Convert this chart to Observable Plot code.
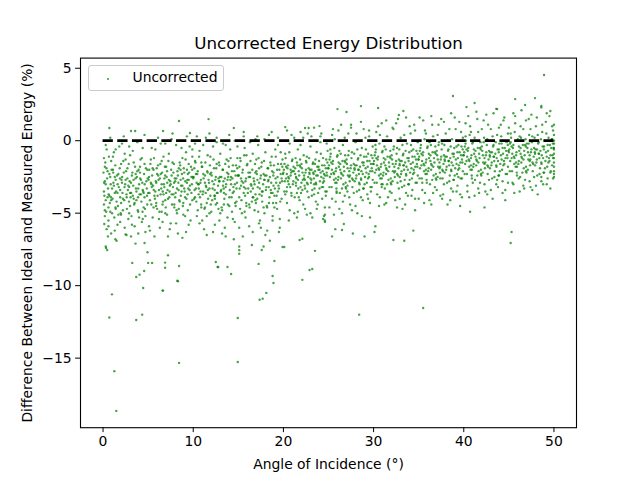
<!DOCTYPE html>
<html>
<head>
<meta charset="utf-8">
<script src="https://cdn.jsdelivr.net/npm/d3@7"></script>
<script src="https://cdn.jsdelivr.net/npm/@observablehq/plot@0.6"></script>
<style>
  html, body { margin: 0; padding: 0; background: white; }
  #wrap { position: relative; width: 640px; height: 480px; font-family: "DejaVu Sans", sans-serif; }
  #legend { position: absolute; left: 87.5px; top: 65px; width: 134px; height: 24px;
    border: 1px solid #cccccc; border-radius: 3px; background: rgba(255,255,255,0.8); }
  #legend .mk { position: absolute; left: 18px; top: 12px; width: 2px; height: 2px; border-radius: 1px; background: #3a9a3a; }
  #legend .lb { position: absolute; left: 44px; top: 3px; font-size: 13.9px; line-height: 17px; color: black; }
</style>
</head>
<body>
<div id="wrap"><div id="legend"><span class="mk"></span><span class="lb">Uncorrected</span></div></div>
<script>
// Chart text
const chartTitle = "Uncorrected Energy Distribution";
const xLabel = "Angle of Incidence (°)";
const yLabel = "Difference Between Ideal and Measured Energy (%)";
const seriesName = "Uncorrected";

// Tick values
const xTicks = [0, 10, 20, 30, 40, 50];
const yTicks = [5, 0, -5, -10, -15];

// Reference (ideal) line: angle and difference
const refAngles = [0, 50];
const refDiff = 0;

// Scatter points [angle (deg), difference (%)], grouped by angle
const bin0to5 = [[0.1,-1.2],[0.2,-2.8],[0.3,-4.1],[0.1,-3.5],[0.4,-0.6],[0.2,-5.2],[0.5,-2.1],[0.3,-3.0],[0.6,-4.6],[0.2,-1.8],[0.7,-3.8],[0.4,-6.1],[0.8,-2.5],[0.1,-4.4],[0.9,-1.4],[0.6,-5.5],[1.0,-3.3],[0.3,-7.3],[1.1,-2.0],[0.8,-4.9],[1.2,-0.8],[1.3,-3.6],[0.9,-6.4],[1.4,-2.7],[1.5,-4.2],[1.1,-1.1],[1.6,-5.8],[1.2,-3.1],[1.7,-2.3],[1.4,-4.7],[1.8,-0.4],[1.9,-3.9],[1.5,-6.9],[2.0,-1.6],[2.1,-2.9],[1.7,-5.1],[2.2,-4.0],[2.3,-2.2],[1.9,-3.4],[2.4,-6.0],[2.5,-1.3],[2.6,-3.7],[2.2,-4.8],[2.7,-2.6],[2.8,-5.4],[2.4,-0.9],[2.9,-3.2],[3.0,-4.5],[2.7,-1.9],[3.1,-6.6],[3.2,-2.4],[3.3,-3.8],[2.9,-5.0],[3.4,-1.5],[3.5,-4.3],[3.1,-2.9],[3.6,-7.1],[3.7,-3.5],[3.3,-0.7],[3.8,-2.1],[3.9,-4.9],[3.5,-5.9],[4.0,-3.0],[4.1,-1.8],[3.7,-4.1],[4.2,-2.7],[4.3,-5.6],[3.9,-3.3],[4.4,-0.5],[4.5,-4.6],[4.1,-2.2],[4.6,-3.9],[4.7,-6.3],[4.3,-1.2],[4.8,-2.8],[4.9,-4.4],[4.5,-3.6],[4.7,-5.2],[0.5,-3.9],[1.3,-2.5],[2.0,-4.3],[2.8,-3.1],[3.6,-2.6],[4.4,-3.4],[0.7,-2.3],[1.6,-3.6],[2.5,-2.7],[3.4,-4.0],[4.2,-3.7],[0.2,-4.8],[1.0,-5.0],[4.9,-2.0],[3.0,-1.0],[2.1,-0.2],[4.6,-1.6]];
const bin0to5b = [[0.05,-2.2],[0.15,-3.8],[0.25,-1.5],[0.35,-4.9],[0.45,-2.6],[0.55,-3.3],[0.65,-1.1],[0.75,-4.3],[0.85,-3.0],[0.95,-2.0],[1.05,-4.0],[1.15,-2.9],[1.25,-5.3],[1.35,-1.7],[1.45,-3.5],[1.55,-2.4],[1.65,-4.5],[1.75,-3.2],[1.85,-1.9],[1.95,-5.0],[2.05,-2.7],[2.15,-3.6],[2.25,-1.4],[2.35,-4.1],[2.45,-3.0],[2.55,-2.1],[2.65,-4.7],[2.75,-3.4],[2.85,-1.6],[2.95,-2.8],[3.05,-3.9],[3.15,-5.2],[3.25,-2.2],[3.35,-3.1],[3.45,-4.4],[3.55,-1.8],[3.65,-3.3],[3.75,-2.5],[3.85,-4.8],[3.95,-2.0],[4.05,-3.7],[4.15,-1.3],[4.25,-4.2],[4.35,-2.9],[4.45,-3.5],[4.55,-2.3],[4.65,-4.7],[4.75,-1.9],[4.85,-3.3],[4.95,-2.6],[0.12,-2.9],[0.62,-3.7],[1.12,-2.2],[1.62,-3.0],[2.12,-2.5],[2.62,-3.9],[3.12,-3.6],[3.62,-2.3],[4.12,-2.6],[4.62,-3.0],[0.38,-1.9],[0.88,-3.9],[1.38,-4.6],[1.88,-2.6],[2.38,-3.2],[2.88,-4.2],[3.38,-2.7],[3.88,-3.9],[4.38,-4.9],[4.88,-3.8]];
const bin5to10 = [[5.1,-2.5],[5.2,-4.1],[5.3,-1.3],[5.4,-3.2],[5.5,-5.3],[5.6,-2.0],[5.7,-3.8],[5.8,-0.6],[5.9,-2.9],[6.0,-4.7],[6.1,-1.7],[6.2,-3.4],[6.3,-6.0],[6.4,-2.3],[6.5,-3.0],[6.6,-4.4],[6.7,-1.1],[6.8,-2.6],[6.9,-5.0],[7.0,-3.6],[7.1,-2.1],[7.2,-4.0],[7.3,-0.9],[7.4,-3.1],[7.5,-5.7],[7.6,-2.4],[7.7,-1.5],[7.8,-3.7],[7.9,-4.6],[8.0,-2.8],[8.1,-0.3],[8.2,-3.3],[8.3,-6.4],[8.4,-1.9],[8.5,-4.2],[8.6,-2.7],[8.7,-3.5],[8.8,-1.2],[8.9,-5.1],[9.0,-2.2],[9.1,-3.9],[9.2,-0.8],[9.3,-2.9],[9.4,-4.8],[9.5,-1.6],[9.6,-3.4],[9.7,-5.5],[9.8,-2.5],[9.9,-4.1],[5.3,-2.9],[5.8,-3.5],[6.3,-2.6],[6.8,-3.2],[7.3,-2.7],[7.8,-2.2],[8.3,-2.4],[8.8,-3.1],[9.3,-2.0],[9.8,-3.6],[5.5,-1.9],[6.0,-2.3],[6.5,-1.4],[7.0,-1.8],[7.5,-3.0],[8.0,-3.9],[8.5,-1.5],[9.0,-3.3],[9.5,-2.7],[5.2,-6.2],[6.2,-5.4],[7.2,-6.6],[8.2,-5.0],[9.2,-6.3],[5.9,-4.3],[6.9,-4.1],[7.9,-4.4],[8.9,-4.3],[9.9,-1.1],[6.4,-0.2],[7.6,0.1],[8.7,-0.5],[9.6,-0.4],[5.0,-3.6],[6.7,-3.7],[8.6,-2.0],[9.4,-2.3]];
const bin5to10b = [[5.05,-2.7],[5.15,-3.6],[5.25,-1.6],[5.35,-4.4],[5.45,-2.4],[5.55,-3.1],[5.65,-1.2],[5.75,-4.0],[5.85,-2.8],[5.95,-1.9],[6.05,-3.8],[6.15,-2.7],[6.25,-4.9],[6.35,-1.6],[6.45,-3.3],[6.55,-2.2],[6.65,-4.2],[6.75,-3.0],[6.85,-1.8],[6.95,-4.6],[7.05,-2.5],[7.15,-3.4],[7.25,-1.4],[7.35,-3.9],[7.45,-2.8],[7.55,-2.0],[7.65,-4.4],[7.75,-3.2],[7.85,-1.6],[7.95,-2.6],[8.05,-3.6],[8.15,-4.8],[8.25,-2.1],[8.35,-2.9],[8.45,-4.1],[8.55,-1.7],[8.65,-3.1],[8.75,-2.3],[8.85,-4.5],[8.95,-1.9],[9.05,-3.5],[9.15,-1.3],[9.25,-4.0],[9.35,-2.7],[9.45,-3.3],[9.55,-2.2],[9.65,-4.4],[9.75,-1.8],[9.85,-3.0],[9.95,-2.5],[5.12,-2.0],[5.62,-3.4],[6.12,-2.4],[6.62,-3.5],[7.12,-2.9],[7.62,-3.7],[8.12,-2.6],[8.62,-3.8],[9.12,-2.8],[9.62,-3.1],[5.38,-3.0],[5.88,-4.5],[6.38,-3.7],[6.88,-2.4],[7.38,-3.5],[7.88,-2.9],[8.38,-3.4],[8.88,-2.6],[9.38,-3.7],[9.88,-2.0]];
const bin10to15 = [[10.0,-2.6],[10.1,-4.0],[10.2,-1.4],[10.3,-3.3],[10.4,-5.2],[10.5,-2.1],[10.6,-3.7],[10.7,-0.7],[10.8,-2.9],[10.9,-4.6],[11.0,-1.8],[11.1,-3.5],[11.2,-6.1],[11.3,-2.4],[11.4,-3.1],[11.5,-4.3],[11.6,-1.0],[11.7,-2.7],[11.8,-5.0],[11.9,-3.8],[12.0,-2.2],[12.1,-4.1],[12.2,-0.4],[12.3,-3.0],[12.4,-5.8],[12.5,-2.5],[12.6,-1.6],[12.7,-3.6],[12.8,-4.7],[12.9,-2.8],[13.0,-0.9],[13.1,-3.4],[13.2,-6.4],[13.3,-2.0],[13.4,-4.4],[13.5,-2.6],[13.6,-3.2],[13.7,-1.3],[13.8,-5.3],[13.9,-2.3],[14.0,-3.9],[14.1,-0.6],[14.2,-3.0],[14.3,-4.9],[14.4,-1.7],[14.5,-3.5],[14.6,-5.6],[14.7,-2.4],[14.8,-4.2],[14.9,-1.2],[10.3,-2.3],[10.8,-3.5],[11.3,-2.9],[11.8,-3.3],[12.3,-1.9],[12.8,-2.6],[13.3,-3.1],[13.8,-2.7],[14.3,-2.1],[14.8,-3.3],[10.5,-4.8],[11.0,-5.5],[11.5,-6.5],[12.0,-4.9],[12.5,-4.4],[13.0,-5.0],[13.5,-6.0],[14.0,-4.5],[14.5,-6.8],[10.2,-0.2],[11.4,0.2],[12.6,-0.1],[13.6,-0.3],[14.6,0.0],[10.9,-1.5],[11.9,-1.1],[12.9,-1.7],[13.9,-1.4],[10.6,-3.0],[11.6,-2.2],[12.4,-3.8],[13.4,-3.6],[14.2,-2.5]];
const bin10to15b = [[10.05,-2.5],[10.15,-3.4],[10.25,-1.5],[10.35,-4.2],[10.45,-2.3],[10.55,-3.0],[10.65,-1.1],[10.75,-3.9],[10.85,-2.7],[10.95,-1.8],[11.05,-3.7],[11.15,-2.6],[11.25,-4.7],[11.35,-1.5],[11.45,-3.2],[11.55,-2.1],[11.65,-4.0],[11.75,-2.9],[11.85,-1.7],[11.95,-4.4],[12.05,-2.4],[12.15,-3.3],[12.25,-1.3],[12.35,-3.8],[12.45,-2.7],[12.55,-1.9],[12.65,-4.3],[12.75,-3.1],[12.85,-1.5],[12.95,-2.5],[13.05,-3.5],[13.15,-4.6],[13.25,-2.0],[13.35,-2.8],[13.45,-4.0],[13.55,-1.6],[13.65,-3.0],[13.75,-2.2],[13.85,-4.4],[13.95,-1.8],[14.05,-3.4],[14.15,-1.2],[14.25,-3.9],[14.35,-2.6],[14.45,-3.2],[14.55,-2.1],[14.65,-4.3],[14.75,-1.7],[14.85,-2.9],[14.95,-2.4],[10.12,-1.9],[10.62,-3.3],[11.12,-2.3],[11.62,-3.4],[12.12,-2.8],[12.62,-3.6],[13.12,-2.5],[13.62,-3.7],[14.12,-2.7],[14.62,-3.0],[10.38,-2.9],[10.88,-4.4],[11.38,-3.6],[11.88,-2.3],[12.38,-3.4],[12.88,-2.8],[13.38,-3.3],[13.88,-2.5],[14.38,-3.6],[14.88,-1.9]];
const bin15to20 = [[15.0,-2.4],[15.1,-3.9],[15.2,-1.2],[15.3,-3.1],[15.4,-5.0],[15.5,-2.0],[15.6,-3.6],[15.7,-0.5],[15.8,-2.8],[15.9,-4.5],[16.0,-1.6],[16.1,-3.3],[16.2,-5.9],[16.3,-2.2],[16.4,-3.0],[16.5,-4.2],[16.6,-0.9],[16.7,-2.6],[16.8,-4.8],[16.9,-3.7],[17.0,-2.1],[17.1,-4.0],[17.2,-0.3],[17.3,-2.9],[17.4,-5.5],[17.5,-2.4],[17.6,-1.5],[17.7,-3.5],[17.8,-4.6],[17.9,-2.7],[18.0,-0.8],[18.1,-3.2],[18.2,-6.2],[18.3,-1.9],[18.4,-4.3],[18.5,-2.5],[18.6,-3.4],[18.7,-1.1],[18.8,-5.2],[18.9,-2.2],[19.0,-3.8],[19.1,-0.6],[19.2,-2.9],[19.3,-4.7],[19.4,-1.6],[19.5,-3.3],[19.6,-5.4],[19.7,-2.3],[19.8,-4.0],[19.9,-1.3],[15.3,-2.6],[15.8,-3.3],[16.3,-2.5],[16.8,-3.0],[17.3,-1.9],[17.8,-2.3],[18.3,-2.8],[18.8,-3.6],[19.3,-2.0],[19.8,-2.6],[15.5,-6.6],[16.5,-7.2],[17.5,-6.0],[18.5,-6.9],[19.5,-6.3],[15.2,-4.7],[16.2,-4.4],[17.2,-4.9],[18.2,-4.6],[19.2,-4.3],[15.6,0.3],[16.9,0.1],[18.4,0.4],[19.4,0.2],[15.9,-1.0],[17.0,-1.3],[18.6,-1.7],[19.7,-0.8],[16.6,-3.9],[17.6,-3.8],[18.9,-3.1]];
const bin15to20b = [[15.05,-2.4],[15.15,-3.3],[15.25,-1.4],[15.35,-4.1],[15.45,-2.2],[15.55,-2.9],[15.65,-1.0],[15.75,-3.8],[15.85,-2.6],[15.95,-1.7],[16.05,-3.6],[16.15,-2.5],[16.25,-4.6],[16.35,-1.4],[16.45,-3.1],[16.55,-2.0],[16.65,-3.9],[16.75,-2.8],[16.85,-1.6],[16.95,-4.3],[17.05,-2.3],[17.15,-3.2],[17.25,-1.2],[17.35,-3.7],[17.45,-2.6],[17.55,-1.8],[17.65,-4.2],[17.75,-3.0],[17.85,-1.4],[17.95,-2.4],[18.05,-3.4],[18.15,-4.5],[18.25,-1.9],[18.35,-2.7],[18.45,-3.9],[18.55,-1.5],[18.65,-2.9],[18.75,-2.1],[18.85,-4.3],[18.95,-1.7],[19.05,-3.3],[19.15,-1.1],[19.25,-3.8],[19.35,-2.5],[19.45,-3.1],[19.55,-2.0],[19.65,-4.2],[19.75,-1.6],[19.85,-2.8],[19.95,-2.3],[15.12,-1.8],[15.62,-3.2],[16.12,-2.2],[16.62,-3.3],[17.12,-2.7],[17.62,-3.5],[18.12,-2.4],[18.62,-3.6],[19.12,-2.6],[19.62,-2.9],[15.38,-2.8],[15.88,-4.3],[16.38,-3.5],[16.88,-2.2],[17.38,-3.3],[17.88,-2.7],[18.38,-3.2],[18.88,-2.4],[19.38,-3.5],[19.88,-1.8]];
const bin20to25 = [[20.0,-2.2],[20.1,-3.5],[20.2,-0.9],[20.3,-2.6],[20.4,-4.3],[20.5,-1.7],[20.6,-3.0],[20.7,-0.2],[20.8,-2.4],[20.9,-3.8],[21.0,-1.3],[21.1,-2.8],[21.2,-5.0],[21.3,-1.9],[21.4,-2.5],[21.5,-3.6],[21.6,-0.6],[21.7,-2.1],[21.8,-4.1],[21.9,-3.2],[22.0,-1.6],[22.1,-3.4],[22.2,0.2],[22.3,-2.4],[22.4,-4.7],[22.5,-2.0],[22.6,-1.1],[22.7,-3.0],[22.8,-3.9],[22.9,-2.3],[23.0,-0.4],[23.1,-2.7],[23.2,-5.3],[23.3,-1.5],[23.4,-3.7],[23.5,-2.1],[23.6,-2.9],[23.7,-0.8],[23.8,-4.4],[23.9,-1.8],[24.0,-3.3],[24.1,-0.1],[24.2,-2.5],[24.3,-4.0],[24.4,-1.2],[24.5,-2.8],[24.6,-4.6],[24.7,-1.9],[24.8,-3.5],[24.9,-0.7],[20.3,-1.8],[20.8,-2.0],[21.3,-2.3],[21.8,-1.7],[22.3,-2.6],[22.8,-1.9],[23.3,-2.2],[23.8,-2.4],[24.3,-1.7],[24.8,-2.2],[20.5,-2.8],[21.0,-2.1],[21.5,-1.5],[22.0,-2.9],[22.5,-1.4],[23.0,-2.6],[23.5,-1.6],[24.0,-2.0],[24.5,-2.3],[20.6,-5.5],[21.6,-4.9],[22.6,-5.1],[23.6,-4.2],[24.6,-5.6],[20.9,0.4],[21.9,0.6],[23.1,0.3],[24.2,0.5],[20.4,-3.2],[21.4,-3.1],[22.4,-3.3],[23.4,-3.0],[24.4,-3.2]];
const bin20to25b = [[20.05,-2.0],[20.15,-2.8],[20.25,-1.2],[20.35,-3.5],[20.45,-1.9],[20.55,-2.5],[20.65,-0.8],[20.75,-3.2],[20.85,-2.2],[20.95,-1.4],[21.05,-3.0],[21.15,-2.1],[21.25,-3.9],[21.35,-1.2],[21.45,-2.6],[21.55,-1.7],[21.65,-3.3],[21.75,-2.4],[21.85,-1.3],[21.95,-3.6],[22.05,-1.9],[22.15,-2.7],[22.25,-1.0],[22.35,-3.1],[22.45,-2.2],[22.55,-1.5],[22.65,-3.5],[22.75,-2.5],[22.85,-1.2],[22.95,-2.0],[23.05,-2.9],[23.15,-3.8],[23.25,-1.6],[23.35,-2.3],[23.45,-3.3],[23.55,-1.3],[23.65,-2.4],[23.75,-1.8],[23.85,-3.6],[23.95,-1.4],[24.05,-2.8],[24.15,-0.9],[24.25,-3.2],[24.35,-2.1],[24.45,-2.6],[24.55,-1.7],[24.65,-3.5],[24.75,-1.3],[24.85,-2.4],[24.95,-1.9],[20.12,-1.6],[20.62,-2.6],[21.12,-1.8],[21.62,-2.7],[22.12,-2.2],[22.62,-2.9],[23.12,-2.0],[23.62,-3.0],[24.12,-2.2],[24.62,-2.4],[20.38,-2.3],[20.88,-3.6],[21.38,-2.9],[21.88,-1.8],[22.38,-2.7],[22.88,-2.2],[23.38,-2.6],[23.88,-2.0],[24.38,-2.9],[24.88,-1.5]];
const bin25to30 = [[25.0,-1.9],[25.1,-3.2],[25.2,-0.6],[25.3,-2.3],[25.4,-4.0],[25.5,-1.4],[25.6,-2.7],[25.7,0.1],[25.8,-2.1],[25.9,-3.5],[26.0,-1.0],[26.1,-2.5],[26.2,-4.7],[26.3,-1.6],[26.4,-2.2],[26.5,-3.3],[26.6,-0.3],[26.7,-1.8],[26.8,-3.8],[26.9,-2.9],[27.0,-1.3],[27.1,-3.1],[27.2,0.5],[27.3,-2.1],[27.4,-4.4],[27.5,-1.7],[27.6,-0.8],[27.7,-2.7],[27.8,-3.6],[27.9,-2.0],[28.0,-0.1],[28.1,-2.4],[28.2,-5.0],[28.3,-1.2],[28.4,-3.4],[28.5,-1.8],[28.6,-2.6],[28.7,-0.5],[28.8,-4.1],[28.9,-1.5],[29.0,-3.0],[29.1,0.2],[29.2,-2.2],[29.3,-3.7],[29.4,-0.9],[29.5,-2.5],[29.6,-4.3],[29.7,-1.6],[29.8,-3.2],[29.9,-0.4],[25.3,-1.5],[25.8,-2.6],[26.3,-2.0],[26.8,-1.4],[27.3,-2.5],[27.8,-1.6],[28.3,-2.0],[28.8,-2.3],[29.3,-1.4],[29.8,-1.9],[25.5,0.8],[26.4,1.1],[27.5,0.9],[28.6,1.3],[29.5,0.7],[25.6,-5.1],[26.6,-4.2],[27.6,-4.8],[28.6,-3.9],[29.6,-5.3],[25.9,-2.9],[26.9,-3.2],[27.9,-2.8],[28.9,-3.3],[29.9,-2.7],[25.2,-1.1],[26.2,-0.7],[27.2,-1.0],[28.2,-0.6],[29.2,-1.1]];
const bin25to30b = [[25.05,-1.7],[25.15,-2.5],[25.25,-0.9],[25.35,-3.2],[25.45,-1.6],[25.55,-2.2],[25.65,-0.5],[25.75,-2.9],[25.85,-1.9],[25.95,-1.1],[26.05,-2.7],[26.15,-1.8],[26.25,-3.6],[26.35,-0.9],[26.45,-2.3],[26.55,-1.4],[26.65,-3.0],[26.75,-2.1],[26.85,-1.0],[26.95,-3.3],[27.05,-1.6],[27.15,-2.4],[27.25,-0.7],[27.35,-2.8],[27.45,-1.9],[27.55,-1.2],[27.65,-3.2],[27.75,-2.2],[27.85,-0.9],[27.95,-1.7],[28.05,-2.6],[28.15,-3.5],[28.25,-1.3],[28.35,-2.0],[28.45,-3.0],[28.55,-1.0],[28.65,-2.1],[28.75,-1.5],[28.85,-3.3],[28.95,-1.1],[29.05,-2.5],[29.15,-0.6],[29.25,-2.9],[29.35,-1.8],[29.45,-2.3],[29.55,-1.4],[29.65,-3.2],[29.75,-1.0],[29.85,-2.1],[29.95,-1.6],[25.12,-1.3],[25.62,-2.3],[26.12,-1.5],[26.62,-2.4],[27.12,-1.9],[27.62,-2.6],[28.12,-1.7],[28.62,-2.7],[29.12,-1.9],[29.62,-2.1],[25.38,-2.0],[25.88,-3.3],[26.38,-2.6],[26.88,-1.5],[27.38,-2.4],[27.88,-1.9],[28.38,-2.3],[28.88,-1.7],[29.38,-2.6],[29.88,-1.2]];
const bin30to35 = [[30.0,-1.6],[30.1,-2.9],[30.2,-0.3],[30.3,-2.0],[30.4,-3.7],[30.5,-1.1],[30.6,-2.4],[30.7,0.4],[30.8,-1.8],[30.9,-3.2],[31.0,-0.7],[31.1,-2.2],[31.2,-4.4],[31.3,-1.3],[31.4,-1.9],[31.5,-3.0],[31.6,0.0],[31.7,-1.5],[31.8,-3.5],[31.9,-2.6],[32.0,-1.0],[32.1,-2.8],[32.2,0.8],[32.3,-1.8],[32.4,-4.1],[32.5,-1.4],[32.6,-0.5],[32.7,-2.4],[32.8,-3.3],[32.9,-1.7],[33.0,0.2],[33.1,-2.1],[33.2,-4.7],[33.3,-0.9],[33.4,-3.1],[33.5,-1.5],[33.6,-2.3],[33.7,-0.2],[33.8,-3.8],[33.9,-1.2],[34.0,-2.7],[34.1,0.5],[34.2,-1.9],[34.3,-3.4],[34.4,-0.6],[34.5,-2.2],[34.6,-4.0],[34.7,-1.3],[34.8,-2.9],[34.9,-0.1],[30.3,-1.2],[30.8,-2.3],[31.3,-1.7],[31.8,-1.1],[32.3,-2.2],[32.8,-1.3],[33.3,-1.7],[33.8,-2.0],[34.3,-1.1],[34.8,-1.6],[30.5,1.0],[31.4,1.4],[32.5,1.2],[33.6,1.6],[34.5,1.1],[30.6,-4.5],[31.6,-3.9],[32.6,-4.6],[33.6,-3.6],[34.6,-4.8],[30.9,-2.6],[31.9,-2.9],[32.9,-2.5],[33.9,-3.0],[34.9,-2.4],[30.2,-0.8],[31.2,-0.4],[32.2,-0.6],[33.2,-0.3],[34.2,-0.7]];
const bin30to35b = [[30.05,-1.4],[30.15,-2.2],[30.25,-0.6],[30.35,-2.9],[30.45,-1.3],[30.55,-1.9],[30.65,-0.2],[30.75,-2.6],[30.85,-1.6],[30.95,-0.8],[31.05,-2.4],[31.15,-1.5],[31.25,-3.3],[31.35,-0.6],[31.45,-2.0],[31.55,-1.1],[31.65,-2.7],[31.75,-1.8],[31.85,-0.7],[31.95,-3.0],[32.05,-1.3],[32.15,-2.1],[32.25,-0.4],[32.35,-2.5],[32.45,-1.6],[32.55,-0.9],[32.65,-2.9],[32.75,-1.9],[32.85,-0.6],[32.95,-1.4],[33.05,-2.3],[33.15,-3.2],[33.25,-1.0],[33.35,-1.7],[33.45,-2.7],[33.55,-0.7],[33.65,-1.8],[33.75,-1.2],[33.85,-3.0],[33.95,-0.8],[34.05,-2.2],[34.15,-0.3],[34.25,-2.6],[34.35,-1.5],[34.45,-2.0],[34.55,-1.1],[34.65,-2.9],[34.75,-0.7],[34.85,-1.8],[34.95,-1.3],[30.12,-1.0],[30.62,-2.0],[31.12,-1.2],[31.62,-2.1],[32.12,-1.6],[32.62,-2.3],[33.12,-1.4],[33.62,-2.4],[34.12,-1.6],[34.62,-1.8],[30.38,-1.7],[30.88,-3.0],[31.38,-2.3],[31.88,-1.2],[32.38,-2.1],[32.88,-1.6],[33.38,-2.0],[33.88,-1.4],[34.38,-2.3],[34.88,-0.9]];
const bin35to40 = [[35.0,-1.3],[35.1,-2.6],[35.2,0.0],[35.3,-1.7],[35.4,-3.4],[35.5,-0.8],[35.6,-2.1],[35.7,0.7],[35.8,-1.5],[35.9,-2.9],[36.0,-0.4],[36.1,-1.9],[36.2,-4.1],[36.3,-1.0],[36.4,-1.6],[36.5,-2.7],[36.6,0.3],[36.7,-1.2],[36.8,-3.2],[36.9,-2.3],[37.0,-0.7],[37.1,-2.5],[37.2,1.1],[37.3,-1.5],[37.4,-3.8],[37.5,-1.1],[37.6,-0.2],[37.7,-2.1],[37.8,-3.0],[37.9,-1.4],[38.0,0.5],[38.1,-1.8],[38.2,-4.4],[38.3,-0.6],[38.4,-2.8],[38.5,-1.2],[38.6,-2.0],[38.7,0.1],[38.8,-3.5],[38.9,-0.9],[39.0,-2.4],[39.1,0.8],[39.2,-1.6],[39.3,-3.1],[39.4,-0.3],[39.5,-1.9],[39.6,-3.7],[39.7,-1.0],[39.8,-2.6],[39.9,0.2],[35.3,-0.9],[35.8,-2.0],[36.3,-1.4],[36.8,-0.8],[37.3,-1.9],[37.8,-1.0],[38.3,-1.4],[38.8,-1.7],[39.3,-0.8],[39.8,-1.3],[35.5,1.4],[36.4,1.7],[37.5,1.5],[38.6,1.9],[39.5,1.3],[35.6,-4.3],[36.6,-3.6],[37.6,-4.0],[38.6,-3.3],[39.6,-4.5],[35.9,-2.3],[36.9,-2.6],[37.9,-2.2],[38.9,-2.7],[39.9,-2.1],[35.2,-0.5],[36.2,-0.1],[37.2,-0.3],[38.2,0.0],[39.2,-0.4]];
const bin35to40b = [[35.05,-1.1],[35.15,-1.9],[35.25,-0.3],[35.35,-2.6],[35.45,-1.0],[35.55,-1.6],[35.65,0.1],[35.75,-2.3],[35.85,-1.3],[35.95,-0.5],[36.05,-2.1],[36.15,-1.2],[36.25,-3.0],[36.35,-0.3],[36.45,-1.7],[36.55,-0.8],[36.65,-2.4],[36.75,-1.5],[36.85,-0.4],[36.95,-2.7],[37.05,-1.0],[37.15,-1.8],[37.25,-0.1],[37.35,-2.2],[37.45,-1.3],[37.55,-0.6],[37.65,-2.6],[37.75,-1.6],[37.85,-0.3],[37.95,-1.1],[38.05,-2.0],[38.15,-2.9],[38.25,-0.7],[38.35,-1.4],[38.45,-2.4],[38.55,-0.4],[38.65,-1.5],[38.75,-0.9],[38.85,-2.7],[38.95,-0.5],[39.05,-1.9],[39.15,0.0],[39.25,-2.3],[39.35,-1.2],[39.45,-1.7],[39.55,-0.8],[39.65,-2.6],[39.75,-0.4],[39.85,-1.5],[39.95,-1.0],[35.12,-0.7],[35.62,-1.7],[36.12,-0.9],[36.62,-1.8],[37.12,-1.3],[37.62,-2.0],[38.12,-1.1],[38.62,-2.1],[39.12,-1.3],[39.62,-1.5],[35.38,-1.4],[35.88,-2.7],[36.38,-2.0],[36.88,-0.9],[37.38,-1.8],[37.88,-1.3],[38.38,-1.7],[38.88,-1.1],[39.38,-2.0],[39.88,-0.6]];
const bin40to45 = [[40.0,-1.0],[40.1,-2.3],[40.2,0.3],[40.3,-1.4],[40.4,-3.1],[40.5,-0.5],[40.6,-1.8],[40.7,1.0],[40.8,-1.2],[40.9,-2.6],[41.0,-0.1],[41.1,-1.6],[41.2,-3.8],[41.3,-0.7],[41.4,-1.3],[41.5,-2.4],[41.6,0.6],[41.7,-0.9],[41.8,-2.9],[41.9,-2.0],[42.0,-0.4],[42.1,-2.2],[42.2,1.4],[42.3,-1.2],[42.4,-3.5],[42.5,-0.8],[42.6,0.1],[42.7,-1.8],[42.8,-2.7],[42.9,-1.1],[43.0,0.8],[43.1,-1.5],[43.2,-4.0],[43.3,-0.3],[43.4,-2.5],[43.5,-0.9],[43.6,-1.7],[43.7,0.4],[43.8,-3.2],[43.9,-0.6],[44.0,-2.1],[44.1,1.1],[44.2,-1.3],[44.3,-2.8],[44.4,0.0],[44.5,-1.6],[44.6,-3.4],[44.7,-0.7],[44.8,-2.3],[44.9,0.5],[40.3,-0.6],[40.8,-1.7],[41.3,-1.1],[41.8,-0.5],[42.3,-1.6],[42.8,-0.7],[43.3,-1.1],[43.8,-1.4],[44.3,-0.5],[44.8,-1.0],[40.5,1.7],[41.4,2.0],[42.5,1.8],[43.6,2.2],[44.5,1.6],[40.6,-3.9],[41.6,-3.3],[42.6,-3.7],[43.6,-3.0],[44.6,-4.1],[40.9,-2.0],[41.9,-2.3],[42.9,-1.9],[43.9,-2.4],[44.9,-1.8],[40.2,-0.2],[41.2,0.2],[42.2,-0.1],[43.2,0.3],[44.2,-0.2]];
const bin40to45b = [[40.05,-0.8],[40.15,-1.6],[40.25,0.0],[40.35,-2.3],[40.45,-0.7],[40.55,-1.3],[40.65,0.4],[40.75,-2.0],[40.85,-1.0],[40.95,-0.2],[41.05,-1.8],[41.15,-0.9],[41.25,-2.7],[41.35,0.0],[41.45,-1.4],[41.55,-0.5],[41.65,-2.1],[41.75,-1.2],[41.85,-0.1],[41.95,-2.4],[42.05,-0.7],[42.15,-1.5],[42.25,0.2],[42.35,-1.9],[42.45,-1.0],[42.55,-0.3],[42.65,-2.3],[42.75,-1.3],[42.85,0.0],[42.95,-0.8],[43.05,-1.7],[43.15,-2.6],[43.25,-0.4],[43.35,-1.1],[43.45,-2.1],[43.55,-0.1],[43.65,-1.2],[43.75,-0.6],[43.85,-2.4],[43.95,-0.2],[44.05,-1.6],[44.15,0.3],[44.25,-2.0],[44.35,-0.9],[44.45,-1.4],[44.55,-0.5],[44.65,-2.3],[44.75,-0.1],[44.85,-1.2],[44.95,-0.7],[40.12,-0.4],[40.62,-1.4],[41.12,-0.6],[41.62,-1.5],[42.12,-1.0],[42.62,-1.7],[43.12,-0.8],[43.62,-1.8],[44.12,-1.0],[44.62,-1.2],[40.38,-1.1],[40.88,-2.4],[41.38,-1.7],[41.88,-0.6],[42.38,-1.5],[42.88,-1.0],[43.38,-1.4],[43.88,-0.8],[44.38,-1.7],[44.88,-0.3]];
const bin45to50 = [[45.0,-0.8],[45.1,-2.1],[45.2,0.5],[45.3,-1.2],[45.4,-2.9],[45.5,-0.3],[45.6,-1.6],[45.7,1.2],[45.8,-1.0],[45.9,-2.4],[46.0,0.1],[46.1,-1.4],[46.2,-3.5],[46.3,-0.5],[46.4,-1.1],[46.5,-2.2],[46.6,0.8],[46.7,-0.7],[46.8,-2.7],[46.9,-1.8],[47.0,-0.2],[47.1,-2.0],[47.2,1.5],[47.3,-1.0],[47.4,-3.2],[47.5,-0.6],[47.6,0.3],[47.7,-1.6],[47.8,-2.5],[47.9,-0.9],[48.0,1.0],[48.1,-1.3],[48.2,-3.7],[48.3,-0.1],[48.4,-2.3],[48.5,-0.7],[48.6,-1.5],[48.7,0.6],[48.8,-3.0],[48.9,-0.4],[49.0,-1.9],[49.1,1.3],[49.2,-1.1],[49.3,-2.6],[49.4,0.2],[49.5,-1.4],[49.6,-2.2],[49.7,-0.5],[49.8,-1.7],[49.9,0.7],[50.0,-0.9],[50.0,-1.5],[50.0,-0.2],[50.0,-2.1],[50.0,0.4],[49.9,-1.2],[49.8,0.1],[45.3,-0.4],[45.8,-1.5],[46.3,-0.9],[46.8,-0.3],[47.3,-1.4],[47.8,-0.5],[48.3,-0.9],[48.8,-1.2],[49.3,-0.3],[45.5,1.9],[46.4,2.1],[47.5,1.8],[48.6,2.3],[49.5,1.7],[45.6,-3.6],[46.6,-3.1],[47.6,-3.4],[48.6,-2.8],[49.6,-3.3],[45.9,-1.8],[46.9,-2.1],[47.9,-1.7],[48.9,-2.2],[45.2,-0.1],[46.2,0.3],[47.2,-0.2],[48.2,0.4]];
const bin45to50b = [[45.05,-0.6],[45.15,-1.4],[45.25,0.2],[45.35,-2.1],[45.45,-0.5],[45.55,-1.1],[45.65,0.6],[45.75,-1.8],[45.85,-0.8],[45.95,0.0],[46.05,-1.6],[46.15,-0.7],[46.25,-2.5],[46.35,0.2],[46.45,-1.2],[46.55,-0.3],[46.65,-1.9],[46.75,-1.0],[46.85,0.1],[46.95,-2.2],[47.05,-0.5],[47.15,-1.3],[47.25,0.4],[47.35,-1.7],[47.45,-0.8],[47.55,-0.1],[47.65,-2.1],[47.75,-1.1],[47.85,0.2],[47.95,-0.6],[48.05,-1.5],[48.15,-2.4],[48.25,-0.2],[48.35,-0.9],[48.45,-1.9],[48.55,0.1],[48.65,-1.0],[48.75,-0.4],[48.85,-2.2],[48.95,0.0],[49.05,-1.4],[49.15,0.5],[49.25,-1.8],[49.35,-0.7],[49.45,-1.2],[49.55,-0.3],[49.65,-2.1],[49.75,0.1],[49.85,-1.0],[49.95,-0.5],[50.0,-1.2],[50.0,-0.6],[50.0,-1.8],[50.0,0.0],[50.0,-2.3],[45.12,-0.2],[45.62,-1.2],[46.12,-0.4],[46.62,-1.3],[47.12,-0.8],[47.62,-1.5],[48.12,-0.6],[48.62,-1.6],[49.12,-0.8],[49.62,-1.0],[45.38,-0.9],[45.88,-2.2],[46.38,-1.5],[46.88,-0.4],[47.38,-1.3],[47.88,-0.8],[48.38,-1.2],[48.88,-0.6],[49.38,-1.5],[49.88,-0.2]];
const edge0to10 = [[0.3,-0.3],[0.8,0.2],[1.4,-0.6],[2.3,0.3],[2.9,-0.4],[3.8,-0.1],[4.6,0.4],[5.4,-0.5],[6.1,0.2],[6.9,-0.2],[7.7,0.5],[8.5,0.0],[9.3,0.3],[9.9,-0.6],[0.6,-5.9],[1.3,-6.2],[1.9,-5.6],[2.6,-6.5],[3.2,-5.8],[3.9,-6.4],[4.4,-5.4],[5.1,-5.9],[5.7,-6.6],[6.6,-5.6],[7.4,-6.1],[8.1,-5.7],[8.8,-6.7],[9.5,-5.8],[0.9,-4.1],[2.0,-5.1],[3.0,-3.6],[4.0,-5.3],[5.6,-4.6],[6.5,-4.9],[7.1,-5.1],[8.4,-4.7],[9.1,-5.2]];
const edge10to20 = [[10.4,0.3],[11.1,-0.3],[11.8,0.5],[12.6,0.2],[13.3,-0.2],[14.0,0.4],[14.9,-0.4],[15.6,0.6],[16.3,-0.1],[17.1,0.3],[17.9,0.1],[18.7,0.6],[19.4,-0.3],[10.7,-5.7],[11.5,-5.2],[12.2,-6.3],[12.9,-5.5],[13.6,-6.6],[14.4,-5.4],[15.1,-6.0],[15.8,-5.3],[16.6,-6.3],[17.3,-5.7],[18.0,-6.5],[18.8,-5.5],[19.6,-6.0],[10.2,-3.9],[11.3,-4.6],[12.4,-4.0],[13.2,-4.8],[14.7,-4.5],[15.7,-4.9],[16.9,-4.1],[17.9,-5.0],[19.0,-4.6]];
const edge20to30 = [[20.4,0.7],[21.2,0.2],[21.9,-0.3],[22.7,0.5],[23.4,0.9],[24.1,0.3],[24.8,-0.2],[25.4,0.4],[26.1,0.7],[26.8,0.2],[27.5,1.1],[28.1,0.5],[28.9,0.8],[29.5,0.3],[20.7,-4.8],[21.5,-5.3],[22.2,-4.4],[23.0,-5.0],[23.7,-4.7],[24.4,-5.4],[25.1,-4.6],[25.8,-4.2],[26.5,-5.0],[27.3,-3.9],[28.0,-4.5],[28.7,-5.2],[29.4,-4.0],[20.2,-3.7],[21.7,-3.9],[23.2,-3.4],[24.7,-3.8],[25.9,-3.6],[27.1,-3.5],[28.4,-2.9],[29.7,-3.5]];
const edge30to40 = [[30.3,0.6],[30.9,1.2],[31.5,0.3],[32.1,0.9],[32.7,1.5],[33.4,0.4],[34.0,1.0],[34.6,0.7],[35.1,1.6],[35.8,0.5],[36.5,1.1],[37.1,0.4],[37.8,1.3],[38.4,0.8],[39.0,1.6],[39.7,0.6],[30.7,-3.9],[31.4,-4.3],[32.0,-3.6],[32.9,-4.0],[33.5,-4.4],[34.2,-3.8],[35.0,-4.0],[35.7,-3.6],[36.4,-4.4],[37.0,-3.4],[37.7,-3.7],[38.5,-4.1],[39.2,-3.5],[39.8,-3.9],[31.0,-3.0],[33.0,-2.8],[35.4,-2.9],[37.4,-2.6],[39.4,-2.5]];
const edge40to50 = [[40.2,1.2],[40.8,0.6],[41.5,1.5],[42.0,0.8],[42.7,1.1],[43.3,1.9],[43.9,0.9],[44.4,1.4],[45.0,0.9],[45.7,1.7],[46.3,1.0],[46.9,1.4],[47.4,0.8],[48.1,1.6],[48.7,1.1],[49.2,1.9],[49.8,1.0],[40.4,-3.5],[41.0,-2.9],[41.7,-3.6],[42.3,-3.0],[43.0,-3.4],[43.7,-2.7],[44.3,-3.6],[44.9,-2.9],[45.5,-3.0],[46.1,-2.6],[46.7,-3.3],[47.3,-2.8],[48.0,-3.1],[48.6,-2.5],[49.2,-3.0],[49.9,-2.6],[50.0,-2.5],[50.0,1.1],[50.0,-0.5]];
const lowOutliers = [[1.47,-18.64],[1.25,-15.9],[0.70,-12.2],[0.99,-10.6],[3.68,-12.37],[4.34,-12.0],[4.45,-10.16],[3.68,-9.4],[4.05,-9.24],[4.56,-8.99],[3.24,-8.43],[4.93,-7.7],[5.0,-8.43],[5.44,-8.43],[6.6,-10.34],[6.65,-10.34],[8.43,-15.33],[8.24,-9.66],[8.3,-9.7],[8.43,-8.64],[6.88,-8.41],[6.88,-8.76],[7.2,-7.9],[14.94,-12.23],[14.94,-15.27],[14.2,-9.2],[13.8,-8.71],[12.77,-8.71],[12.7,-8.71],[12.5,-8.37],[17.36,-10.97],[17.7,-10.9],[18.1,-10.5],[18.9,-9.82],[18.8,-9.33],[19.0,-8.3],[17.25,-8.5],[22.1,-9.6],[22.9,-8.92],[23.2,-8.85],[23.5,-7.6],[28.4,-12.0],[35.5,-11.54],[45.3,-6.3],[45.2,-7.06],[32.2,-6.85],[33.4,-6.9],[34.4,-6.2],[25.4,-6.6],[29.0,-6.6],[30.1,-6.3],[27.7,-6.4],[25.75,-6.1],[26.5,-6.16],[26.7,-5.75],[30.2,-5.9],[24.5,-5.2],[24.6,-5.5],[40.7,-4.9],[42.3,-4.6],[0.14,-5.75],[0.33,-7.4],[0.46,-7.54],[1.37,-6.8],[0.54,-6.6],[2.5,-6.46],[4.6,-7.06],[15.1,-7.3],[15.1,-7.55],[15.1,-7.8],[17.6,-7.54],[17.8,-7.3],[19.9,-7.33],[20.1,-7.33],[22.1,-6.76],[21.8,-6.85],[24.6,-5.1]];
const highOutliers = [[48.9,4.53],[38.8,3.08],[47.9,2.94],[45.7,2.87],[28.6,2.39],[26.0,2.18],[30.5,2.26],[27.0,1.98],[33.3,2.05],[32.8,1.77],[41.2,2.6],[40.3,2.32],[43.7,2.18],[46.8,2.46],[49.6,2.05],[48.6,2.4],[11.7,1.49],[8.42,1.36],[0.7,0.88],[6.66,0.67],[14.5,0.88],[9.64,0.53],[3.56,0.67],[3.1,0.67],[20.2,0.94],[24.0,1.01],[22.4,0.88],[22.8,0.88]];

const points = [].concat(bin0to5, bin0to5b, bin5to10, bin5to10b, bin10to15, bin10to15b,
  bin15to20, bin15to20b, bin20to25, bin20to25b, bin25to30, bin25to30b,
  bin30to35, bin30to35b, bin35to40, bin35to40b, bin40to45, bin40to45b,
  bin45to50, bin45to50b, edge0to10, edge10to20, edge20to30, edge30to40, edge40to50,
  lowOutliers, highOutliers)
  .map(([angle, diff]) => ({angle, diff}));

const minus = d => (d < 0 ? "\u2212" + Math.abs(d) : String(d));

const chart = Plot.plot({
  width: 640,
  height: 480,
  marginLeft: 80,
  marginRight: 64,
  marginTop: 57.6,
  marginBottom: 52.8,
  style: {fontFamily: "'DejaVu Sans', sans-serif", fontSize: "13.9px", background: "white", color: "black", overflow: "visible"},
  x: {domain: [-2.5, 52.5]},
  y: {domain: [-19.8, 5.7]},
  marks: [
    Plot.dot(points, {x: "angle", y: "diff", r: 1.2, fill: "#008000", fillOpacity: 0.72, stroke: "none"}),
    Plot.ruleY([refDiff], {x1: refAngles[0], x2: refAngles[1], stroke: "black", strokeWidth: 2.78, strokeDasharray: "10.3,4.4"}),
    Plot.frame({stroke: "black", strokeWidth: 1.1}),
    Plot.axisX({ticks: xTicks, tickSize: 4.9, tickPadding: 4, tickFormat: minus, label: null, fontSize: 13.9}),
    Plot.axisY({ticks: yTicks, tickSize: 4.9, tickPadding: 4, tickFormat: minus, label: null, fontSize: 13.9}),
    Plot.text([chartTitle], {text: d => d, frameAnchor: "top", lineAnchor: "middle", dy: -14, fontSize: 16.7}),
    Plot.text([xLabel], {text: d => d, frameAnchor: "bottom", lineAnchor: "middle", dy: 37, fontSize: 13.9}),
    Plot.text([yLabel], {text: d => d, frameAnchor: "left", textAnchor: "middle", lineAnchor: "middle", dx: -53, rotate: -90, fontSize: 13.9})
  ]
});
const wrap = document.getElementById("wrap");
wrap.insertBefore(chart, wrap.firstChild);
</script>
</body>
</html>
